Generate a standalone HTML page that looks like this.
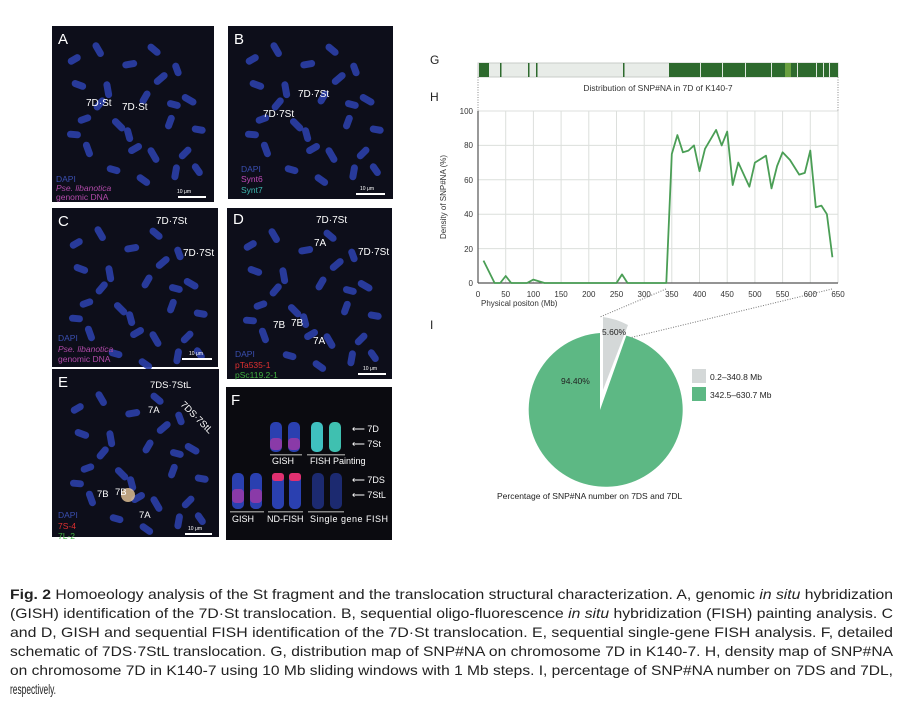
<!DOCTYPE html>
<html><head><meta charset="utf-8"><style>
html,body{margin:0;padding:0;background:#fff;}
svg{display:block;font-family:"Liberation Sans",Arial,sans-serif;}
</style></head><body>
<svg width="905" height="705" viewBox="0 0 905 705" xmlns="http://www.w3.org/2000/svg">
<defs>
<g id="chr" fill="#2b3fa8" opacity="0.9">
<rect x="40" y="20" width="16" height="7" rx="3.5" transform="rotate(60 47 22)"/>
<rect x="70" y="35" width="15" height="7" rx="3.5" transform="rotate(-10 76 37)"/>
<rect x="100" y="50" width="16" height="7" rx="3.5" transform="rotate(-40 107 52)"/>
<rect x="120" y="40" width="14" height="7" rx="3.5" transform="rotate(70 126 42)"/>
<rect x="20" y="55" width="15" height="7" rx="3.5" transform="rotate(20 26 57)"/>
<rect x="50" y="60" width="17" height="7" rx="3.5" transform="rotate(80 57 62)"/>
<rect x="85" y="70" width="15" height="7" rx="3.5" transform="rotate(-60 91 72)"/>
<rect x="130" y="70" width="16" height="7" rx="3.5" transform="rotate(30 137 72)"/>
<rect x="25" y="90" width="14" height="7" rx="3.5" transform="rotate(-20 31 92)"/>
<rect x="60" y="95" width="16" height="7" rx="3.5" transform="rotate(45 67 97)"/>
<rect x="110" y="95" width="15" height="7" rx="3.5" transform="rotate(-70 116 97)"/>
<rect x="140" y="100" width="14" height="7" rx="3.5" transform="rotate(10 146 102)"/>
<rect x="30" y="120" width="16" height="7" rx="3.5" transform="rotate(70 37 122)"/>
<rect x="75" y="120" width="15" height="7" rx="3.5" transform="rotate(-30 81 122)"/>
<rect x="95" y="125" width="17" height="7" rx="3.5" transform="rotate(60 102 127)"/>
<rect x="125" y="125" width="15" height="7" rx="3.5" transform="rotate(-45 131 127)"/>
<rect x="55" y="140" width="14" height="7" rx="3.5" transform="rotate(15 61 142)"/>
<rect x="115" y="145" width="16" height="7" rx="3.5" transform="rotate(-80 122 147)"/>
<rect x="85" y="150" width="15" height="7" rx="3.5" transform="rotate(35 91 152)"/>
<rect x="140" y="140" width="14" height="7" rx="3.5" transform="rotate(55 146 142)"/>
<rect x="15" y="30" width="14" height="7" rx="3.5" transform="rotate(-30 22 33)"/>
<rect x="95" y="20" width="15" height="7" rx="3.5" transform="rotate(40 102 23)"/>
<rect x="40" y="75" width="15" height="7" rx="3.5" transform="rotate(-50 47 78)"/>
<rect x="115" y="75" width="14" height="7" rx="3.5" transform="rotate(15 122 78)"/>
<rect x="70" y="105" width="15" height="7" rx="3.5" transform="rotate(75 77 108)"/>
<rect x="15" y="105" width="14" height="7" rx="3.5" transform="rotate(5 22 108)"/>
</g>
</defs>

<!-- Panel A -->
<rect x="52" y="26" width="162" height="176" fill="#0d0e1a"/>
<use href="#chr" x="52" y="26"/>
<text x="58" y="44" fill="#fff" font-size="15">A</text>
<text x="86" y="106" fill="#fff" font-size="10">7D·St</text>
<text x="122" y="110" fill="#fff" font-size="10">7D·St</text>
<text x="56" y="182" fill="#3a4fb0" font-size="8.5">DAPI</text>
<text x="56" y="191" fill="#b04aa8" font-size="8.5" font-style="italic">Pse. libanotica</text>
<text x="56" y="200" fill="#b04aa8" font-size="8.5">genomic DNA</text>
<text x="177" y="193" fill="#fff" font-size="5">10 μm</text>
<rect x="178" y="196" width="28" height="2" fill="#fff"/>

<!-- Panel B -->
<rect x="228" y="26" width="165" height="173" fill="#0d0e1a"/>
<use href="#chr" x="230" y="26"/>
<text x="234" y="44" fill="#fff" font-size="15">B</text>
<text x="298" y="97" fill="#fff" font-size="10">7D·7St</text>
<text x="263" y="117" fill="#fff" font-size="10">7D·7St</text>
<text x="241" y="172" fill="#3a4fb0" font-size="8.5">DAPI</text>
<text x="241" y="182" fill="#c04ab8" font-size="8.5">Synt6</text>
<text x="241" y="193" fill="#3fb8b0" font-size="8.5">Synt7</text>
<text x="360" y="190" fill="#fff" font-size="5">10 μm</text>
<rect x="356" y="193" width="29" height="2" fill="#fff"/>

<!-- Panel C -->
<rect x="52" y="208" width="166" height="159" fill="#0d0e1a"/>
<use href="#chr" x="54" y="210"/>
<text x="58" y="226" fill="#fff" font-size="15">C</text>
<text x="156" y="224" fill="#fff" font-size="10">7D·7St</text>
<text x="183" y="256" fill="#fff" font-size="10">7D·7St</text>
<text x="58" y="341" fill="#3a4fb0" font-size="8.5">DAPI</text>
<text x="58" y="352" fill="#b04aa8" font-size="8.5" font-style="italic">Pse. libanotica</text>
<text x="58" y="362" fill="#b04aa8" font-size="8.5">genomic DNA</text>
<text x="189" y="355" fill="#fff" font-size="5">10 μm</text>
<rect x="182" y="358" width="30" height="2" fill="#fff"/>

<!-- Panel D -->
<rect x="227" y="208" width="165" height="171" fill="#0d0e1a"/>
<use href="#chr" x="228" y="212"/>
<text x="233" y="224" fill="#fff" font-size="15">D</text>
<text x="316" y="223" fill="#fff" font-size="10">7D·7St</text>
<text x="314" y="246" fill="#fff" font-size="10">7A</text>
<text x="358" y="255" fill="#fff" font-size="10">7D·7St</text>
<text x="273" y="328" fill="#fff" font-size="10">7B</text>
<text x="291" y="326" fill="#fff" font-size="10">7B</text>
<text x="313" y="344" fill="#fff" font-size="10">7A</text>
<text x="235" y="357" fill="#3a4fb0" font-size="8.5">DAPI</text>
<text x="235" y="368" fill="#e03030" font-size="8.5">pTa535-1</text>
<text x="235" y="378" fill="#40b040" font-size="8.5">pSc119.2-1</text>
<text x="363" y="370" fill="#fff" font-size="5">10 μm</text>
<rect x="358" y="373" width="28" height="2" fill="#fff"/>

<!-- Panel E -->
<rect x="52" y="369" width="167" height="168" fill="#0d0e1a"/>
<use href="#chr" x="55" y="375"/>
<ellipse cx="128" cy="495" rx="7" ry="7" fill="#e8c89a" opacity="0.8"/>
<text x="58" y="387" fill="#fff" font-size="15">E</text>
<text x="150" y="388" fill="#fff" font-size="9.5">7DS·7StL</text>
<text x="148" y="413" fill="#fff" font-size="9.5">7A</text>
<text x="180" y="405" fill="#fff" font-size="9.5" transform="rotate(45 180 405)">7DS·7StL</text>
<text x="97" y="497" fill="#fff" font-size="9.5">7B</text>
<text x="115" y="495" fill="#fff" font-size="9.5">7B</text>
<text x="139" y="518" fill="#fff" font-size="9.5">7A</text>
<text x="58" y="518" fill="#3a4fb0" font-size="8.5">DAPI</text>
<text x="58" y="529" fill="#e03030" font-size="8.5">7S-4</text>
<text x="58" y="539" fill="#40b040" font-size="8.5">7L-2</text>
<text x="188" y="530" fill="#fff" font-size="5">10 μm</text>
<rect x="185" y="533" width="27" height="2" fill="#fff"/>

<!-- Panel F -->
<rect x="226" y="387" width="166" height="153" fill="#0b0b10"/>
<text x="231" y="405" fill="#fff" font-size="15">F</text>
<rect x="270" y="422" width="12" height="30" rx="5" fill="#2a40b0"/>
<rect x="270" y="438" width="12" height="12" rx="4" fill="#8a3aa8"/>
<rect x="288" y="422" width="12" height="30" rx="5" fill="#2a40b0"/>
<rect x="288" y="438" width="12" height="12" rx="4" fill="#8a3aa8"/>
<rect x="311" y="422" width="12" height="30" rx="5" fill="#3fc0c0"/>
<rect x="329" y="422" width="12" height="30" rx="5" fill="#3fc0b0"/>
<rect x="270" y="454" width="32" height="1.5" fill="#888"/>
<rect x="307" y="454" width="38" height="1.5" fill="#888"/>
<text x="272" y="464" fill="#fff" font-size="9">GISH</text>
<text x="310" y="464" fill="#fff" font-size="9">FISH Painting</text>
<text x="352" y="432" fill="#fff" font-size="9">⟵ 7D</text>
<text x="352" y="447" fill="#fff" font-size="9">⟵ 7St</text>
<rect x="232" y="473" width="12" height="36" rx="5" fill="#2a40b0"/>
<rect x="232" y="489" width="12" height="14" rx="4" fill="#8a3aa8"/>
<rect x="250" y="473" width="12" height="36" rx="5" fill="#2a40b0"/>
<rect x="250" y="489" width="12" height="14" rx="4" fill="#8a3aa8"/>
<rect x="272" y="473" width="12" height="36" rx="5" fill="#2a40b0"/>
<rect x="272" y="473" width="12" height="8" rx="3" fill="#e03070"/>
<rect x="289" y="473" width="12" height="36" rx="5" fill="#2a40b0"/>
<rect x="289" y="473" width="12" height="8" rx="3" fill="#e03070"/>
<rect x="312" y="473" width="12" height="36" rx="5" fill="#1c2a70"/>
<rect x="330" y="473" width="12" height="36" rx="5" fill="#1c2a70"/>
<rect x="230" y="511" width="34" height="1.5" fill="#888"/>
<rect x="268" y="511" width="35" height="1.5" fill="#888"/>
<rect x="308" y="511" width="36" height="1.5" fill="#888"/>
<text x="232" y="522" fill="#fff" font-size="9">GISH</text>
<text x="267" y="522" fill="#fff" font-size="9">ND-FISH</text>
<text x="310" y="522" fill="#fff" font-size="9" textLength="78">Single gene FISH</text>
<text x="352" y="483" fill="#fff" font-size="9">⟵ 7DS</text>
<text x="352" y="498" fill="#fff" font-size="9">⟵ 7StL</text>

<!-- G -->
<text x="430" y="64" font-size="12" fill="#222">G</text>
<rect x="478" y="63" width="360" height="14" fill="#e8ece8" stroke="#c8ccc8"/>
<g fill="#2e6a2e">
<rect x="479" y="63" width="10" height="14"/>
<rect x="500" y="63" width="1.5" height="14"/>
<rect x="528" y="63" width="1.5" height="14"/>
<rect x="536" y="63" width="1.5" height="14"/>
<rect x="623" y="63" width="1.5" height="14"/>
<rect x="669" y="63" width="169" height="14"/>
</g>
<g fill="#dfe8df">
<rect x="700" y="63" width="1" height="14"/><rect x="722" y="63" width="1" height="14"/>
<rect x="745" y="63" width="1" height="14"/><rect x="771" y="63" width="1" height="14"/>
<rect x="797" y="63" width="1" height="14"/><rect x="816" y="63" width="1" height="14"/>
<rect x="823" y="63" width="1" height="14"/><rect x="829" y="63" width="1" height="14"/>
</g>
<rect x="785" y="63" width="6" height="14" fill="#6aa040"/>
<line x1="478" y1="77" x2="478" y2="111" stroke="#888" stroke-dasharray="1,1.5"/>
<line x1="838" y1="77" x2="838" y2="111" stroke="#888" stroke-dasharray="1,1.5"/>
<text x="658" y="91" font-size="8.5" fill="#333" text-anchor="middle">Distribution of SNP#NA in 7D of K140-7</text>

<!-- H -->
<text x="430" y="101" font-size="12" fill="#222">H</text>
<g stroke="#dcdfdc" stroke-width="1">
<line x1="505.7" y1="111" x2="505.7" y2="283"/><line x1="533.4" y1="111" x2="533.4" y2="283"/>
<line x1="561.1" y1="111" x2="561.1" y2="283"/><line x1="588.8" y1="111" x2="588.8" y2="283"/>
<line x1="616.5" y1="111" x2="616.5" y2="283"/><line x1="644.2" y1="111" x2="644.2" y2="283"/>
<line x1="671.8" y1="111" x2="671.8" y2="283"/><line x1="699.5" y1="111" x2="699.5" y2="283"/>
<line x1="727.2" y1="111" x2="727.2" y2="283"/><line x1="754.9" y1="111" x2="754.9" y2="283"/>
<line x1="782.6" y1="111" x2="782.6" y2="283"/><line x1="810.3" y1="111" x2="810.3" y2="283"/>
<line x1="838" y1="111" x2="838" y2="283"/>
<line x1="478" y1="111" x2="838" y2="111"/><line x1="478" y1="145.4" x2="838" y2="145.4"/>
<line x1="478" y1="179.8" x2="838" y2="179.8"/><line x1="478" y1="214.2" x2="838" y2="214.2"/>
<line x1="478" y1="248.6" x2="838" y2="248.6"/>
</g>
<line x1="478" y1="111" x2="478" y2="283" stroke="#555" stroke-width="1.2"/>
<line x1="478" y1="283" x2="838" y2="283" stroke="#555" stroke-width="1.2"/>
<g font-size="8" fill="#333" text-anchor="end">
<text x="473" y="114">100</text><text x="473" y="148">80</text><text x="473" y="183">60</text>
<text x="473" y="217">40</text><text x="473" y="252">20</text><text x="473" y="286">0</text>
</g>
<g font-size="8" fill="#333" text-anchor="middle">
<text x="478" y="297">0</text><text x="505.7" y="297">50</text><text x="533.4" y="297">100</text>
<text x="561.1" y="297">150</text><text x="588.8" y="297">200</text><text x="616.5" y="297">250</text>
<text x="644.2" y="297">300</text><text x="671.8" y="297">350</text><text x="699.5" y="297">400</text>
<text x="727.2" y="297">450</text><text x="754.9" y="297">500</text><text x="782.6" y="297">550</text>
<text x="810.3" y="297">600</text><text x="838" y="297">650</text>
</g>
<text x="481" y="306" font-size="8" fill="#333">Physical positon (Mb)</text>
<text x="446" y="197" font-size="8" fill="#333" text-anchor="middle" transform="rotate(-90 446 197)">Density of SNP#NA (%)</text>
<polyline fill="none" stroke="#4a9e55" stroke-width="1.8" stroke-linejoin="round" points="483.5,260.6 494.6,283 500.2,283 505.7,276 511.2,283 527,283 533.4,279.6 544.5,283 616.5,283 622,274.4 627.5,283 666.3,283 671.8,154 677.4,135.1 682.9,152.3 688.4,150.6 694,145.4 699.5,171.2 705,148.8 716.1,129.9 721.7,145.4 727.2,131.6 732.7,185 738.3,162.6 749.4,186.7 754.9,162.6 766,155.7 771.5,188.4 777.1,166 782.6,152.3 790,160 799.2,174.6 804.8,172.9 810.3,150.6 815.8,207.3 821.4,205.6 826.9,214.2 832.4,257.2"/>
<line x1="666" y1="289" x2="600" y2="317" stroke="#777" stroke-dasharray="1,1.5"/>
<line x1="832" y1="289" x2="629" y2="338" stroke="#777" stroke-dasharray="1,1.5"/>

<!-- I -->
<text x="430" y="329" font-size="12" fill="#222">I</text>
<path d="M600,410 L626.3,335.6 A77,77 0 1 1 600,333 Z" fill="#5db884"/>
<path d="M603,390 L603,317 A73,73 0 0 1 628,325 Z" fill="#d4d8d8"/>
<text x="602" y="335" font-size="8.5" fill="#222">5.60%</text>
<text x="561" y="384" font-size="8.5" fill="#222">94.40%</text>
<rect x="692" y="369" width="14" height="14" fill="#d4d8d8"/>
<rect x="692" y="387" width="14" height="14" fill="#5db884"/>
<text x="710" y="380" font-size="8.5" fill="#222">0.2–340.8 Mb</text>
<text x="710" y="398" font-size="8.5" fill="#222">342.5–630.7 Mb</text>
<text x="497" y="499" font-size="8.5" fill="#222">Percentage of SNP#NA number on 7DS and 7DL</text>

<!-- Caption -->
<g font-size="14" fill="#222">
<text x="10" y="599" textLength="883" lengthAdjust="spacingAndGlyphs"><tspan font-weight="bold">Fig. 2</tspan>  Homoeology analysis of the St fragment and the translocation structural characterization.  A, genomic <tspan font-style="italic">in situ</tspan> hybridization</text>
<text x="10" y="618" textLength="883" lengthAdjust="spacingAndGlyphs">(GISH) identification of the 7D·St translocation.  B, sequential oligo-fluorescence <tspan font-style="italic">in situ</tspan> hybridization (FISH) painting analysis.  C</text>
<text x="10" y="637" textLength="883" lengthAdjust="spacingAndGlyphs">and D, GISH and sequential FISH identification of the 7D·St translocation.  E, sequential single-gene FISH analysis.  F, detailed</text>
<text x="10" y="656" textLength="883" lengthAdjust="spacingAndGlyphs">schematic of 7DS·7StL translocation.  G, distribution map of SNP#NA on chromosome 7D in K140-7.  H, density map of SNP#NA</text>
<text x="10" y="675" textLength="883" lengthAdjust="spacingAndGlyphs">on chromosome 7D in K140-7 using 10 Mb sliding windows with 1 Mb steps.  I, percentage of SNP#NA number on 7DS and 7DL,</text>
<text x="10" y="694" textLength="46" lengthAdjust="spacingAndGlyphs">respectively.</text>
</g>
</svg>
</body></html>
